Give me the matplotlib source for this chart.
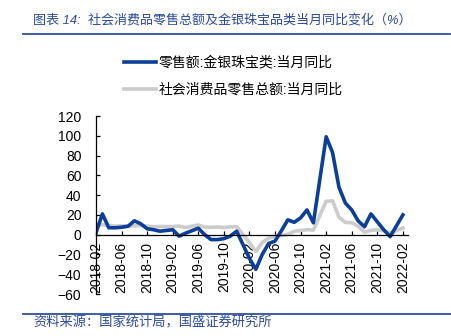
import matplotlib
matplotlib.use('Agg')
import matplotlib.pyplot as plt
from matplotlib.lines import Line2D

plt.rcParams['font.family'] = ['Liberation Sans', 'Noto Sans CJK SC', 'DejaVu Sans']

# monthly data, no January values (NBS publishes Jan-Feb together)
months = ['2018-02', '2018-03', '2018-04', '2018-05', '2018-06', '2018-07', '2018-08', '2018-09', '2018-10', '2018-11', '2018-12',
          '2019-02', '2019-03', '2019-04', '2019-05', '2019-06', '2019-07', '2019-08', '2019-09', '2019-10', '2019-11', '2019-12',
          '2020-02', '2020-03', '2020-04', '2020-05', '2020-06', '2020-07', '2020-08', '2020-09', '2020-10', '2020-11', '2020-12',
          '2021-02', '2021-03', '2021-04', '2021-05', '2021-06', '2021-07', '2021-08', '2021-09', '2021-10', '2021-11', '2021-12',
          '2022-02']

jewelry = [2, 21, 7, 7, 7.5, 8.5, 14, 11, 6, 5, 3.5,
           5, -1.5, 1.5, 4, 6.5, 0, -5, -5, -4, -1.5, 3.5,
           -24, -35, -20, -9, -6.5, 4, 15, 12.5, 17, 25, 12,
           99, 83, 48, 32, 25, 14, 8, 21, 13, 5, -2,
           20]

retail = [9.7, 10.1, 9.4, 8.5, 9.0, 8.8, 9.0, 9.2, 8.6, 8.1, 8.2,
          8.2, 8.7, 7.2, 8.6, 9.8, 7.6, 7.5, 7.8, 7.2, 8.0, 8.0,
          -8, -17, -8, -3.5, -1.8, -1.1, 0.5, 3.3, 4.3, 5.0, 4.6,
          33.8, 34.2, 17.7, 12.4, 12.1, 8.5, 2.5, 4.4, 4.9, 3.9, 1.7,
          6.7]

tick_labels = ['2018-02', '2018-06', '2018-10', '2019-02', '2019-06', '2019-10', '2020-02',
               '2020-06', '2020-10', '2021-02', '2021-06', '2021-10', '2022-02']

label1 = '零售额:金银珠宝类:当月同比'
label2 = '社会消费品零售总额:当月同比'


def month_pos(s):
    y, m = s.split('-')
    return (int(y) - 2018) * 12 + int(m) - 2


x = [month_pos(m) for m in months]
xt = [month_pos(m) for m in tick_labels]

blue = '#0b3f98'
grey = '#cccccc'
txt_blue = '#2b4a9a'

fig = plt.figure(figsize=(4.52, 3.36), dpi=100)
ax = fig.add_axes([96 / 452, 42 / 336, 312 / 452, 178 / 336])

l2, = ax.plot(x, retail, color=grey, lw=2.6, solid_joinstyle='round')
l1, = ax.plot(x, jewelry, color=blue, lw=2.6, solid_joinstyle='round')

ax.set_xlim(0, 48.8)
ax.set_ylim(-60, 120)
ax.set_yticks(range(-60, 121, 20))
ax.set_xticks(xt)
ax.set_xticklabels(tick_labels)

ax.spines['top'].set_visible(False)
ax.spines['right'].set_visible(False)
ax.spines['bottom'].set_position(('data', 0))
ax.spines['left'].set_linewidth(0.9)
ax.spines['bottom'].set_linewidth(0.9)
ax.tick_params(axis='y', direction='in', length=3, width=0.9, labelsize=10, pad=10.5)
ax.tick_params(axis='x', direction='in', length=3, width=0.9, labelsize=10, pad=5,
               labelrotation=90)

fig.legend([l1, l2], [label1, label2], loc='upper left',
           bbox_to_anchor=(124 / 452, 1 - 55.5 / 336), frameon=False,
           fontsize=10, handlelength=2.3, handletextpad=0.2, labelspacing=0.95,
           borderpad=0, borderaxespad=0)

fig.text(33 / 452, 1 - 20 / 336, '图表 14:  社会消费品零售总额及金银珠宝品类当月同比变化（%）',
         fontsize=9.4, color=txt_blue, va='center', ha='left', style='italic')
fig.add_artist(Line2D([23 / 452, 450 / 452], [1 - 33.5 / 336] * 2, color='#2d4f9e', lw=1.3))

fig.add_artist(Line2D([23 / 452, 1.0], [1 - 313.5 / 336] * 2, color='#2d4f9e', lw=1.3))
fig.text(33 / 452, 1 - 323 / 336, '资料来源：国家统计局，国盛证券研究所',
         fontsize=9.5, color=txt_blue, va='center', ha='left', style='italic')

fig.savefig('out.png', dpi=100)
